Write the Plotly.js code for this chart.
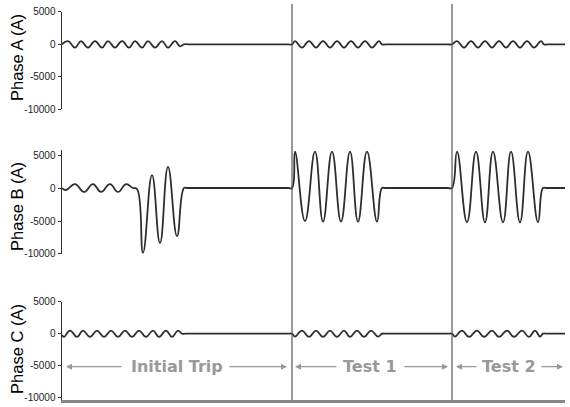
<!DOCTYPE html>
<html>
<head>
<meta charset="utf-8">
<script src="https://cdn.plot.ly/plotly-3.0.1.min.js"></script>
<style>html,body{margin:0;padding:0;background:#fff;}#chart{width:570px;height:407px;}</style>
</head>
<body>
<div id="chart"></div>
<script>
// time in ms, current in A
const phaseA_t = [0,6,13,19,26,33,40,46,53,60,67,73,80,86,93,100,106,113,118,122,126,226,
  230,233,240,247,254,261,268,275,282,289,296,303,310,317,320,324,386,
  390,395,402,409,416,423,430,437,444,451,458,465,472,479,482,486,503];
const phaseA_i = [0,500,-500,500,-500,500,-500,500,-500,500,-500,500,-500,500,-500,500,-500,500,-300,0,0,0,
  0,500,-500,500,-500,500,-500,500,-500,500,-500,500,-500,500,0,0,0,
  0,500,-500,500,-500,500,-500,500,-500,500,-500,500,-500,500,0,0,0];

const phaseB_t = [0,4,13,22,31,39,48,56,64,71,75,81,90,98,106,115,122,125,226,
  230,233,243,253,261,270,279,288,296,305,315,320,323,386,
  390,395,405,414,423,431,441,449,458,466,476,481,484,503];
const phaseB_i = [0,-300,600,-600,600,-600,600,-600,600,0,-150,-9800,1950,-8350,3200,-7300,0,0,0,
  0,5500,-5000,5500,-5100,5500,-5100,5500,-5100,5500,-5100,0,0,0,
  0,5500,-5200,5500,-5200,5500,-5200,5500,-5200,5500,-5200,0,0,0];

const phaseC_t = [0,2,8,15,21,28,35,42,49,56,63,70,77,84,91,97,104,110,116,120,124,226,
  230,233,240,247,254,261,268,275,282,288,295,302,309,316,320,324,386,
  390,393,400,407,415,422,430,437,445,452,460,467,473,478,481,485,503];
const phaseC_i = [-200,-500,500,-500,500,-500,500,-500,500,-500,500,-500,500,-500,500,-500,500,-500,500,0,0,0,
  0,-450,500,-500,500,-500,500,-500,500,-500,500,-500,500,-450,0,0,0,
  0,-450,500,-500,500,-500,500,-500,500,-500,500,-500,500,-450,0,0,0];

const phaseNames = ['Phase A (A)', 'Phase B (A)', 'Phase C (A)'];
const yTickVals = [5000, 0, -5000, -10000];
const yTickText = ['5000', '0', '-5000', '-10000'];
const segmentStarts = [230, 390];
const segmentLabels = ['Initial Trip', 'Test 1', 'Test 2'];
const segmentLabelX = [114.5, 308, 447];
// arrows: [head, tail]
const segmentArrows = [[4, 61], [225, 166], [233, 276], [386, 341], [394, 416], [501, 478]];
const labelLevel = -5200;

const lineStyle = {color: '#2e2e2e', width: 1.8, shape: 'spline', smoothing: 1.3};
const traces = [
  {x: phaseA_t, y: phaseA_i, xaxis: 'x', yaxis: 'y', mode: 'lines', line: lineStyle, name: 'Phase A'},
  {x: phaseB_t, y: phaseB_i, xaxis: 'x', yaxis: 'y2', mode: 'lines', line: lineStyle, name: 'Phase B'},
  {x: phaseC_t, y: phaseC_i, xaxis: 'x', yaxis: 'y3', mode: 'lines', line: lineStyle, name: 'Phase C'}
];

const titleFont = {family: 'Liberation Sans, Arial', size: 16.5, color: '#000'};
function yax(domain, range) {
  return {
    domain: domain, range: range, tickvals: yTickVals, ticktext: yTickText,
    ticks: 'outside', ticklen: 3, tickwidth: 1, tickcolor: '#333',
    tickfont: {family: 'Liberation Sans, Arial', size: 10, color: '#222'},
    showgrid: false, zeroline: false, showline: true, linecolor: '#333', linewidth: 1.5,
    fixedrange: true
  };
}

const shapes = segmentStarts.map(s => ({
  type: 'line', xref: 'x', yref: 'paper', x0: s, x1: s, y0: 0, y1: 1,
  line: {color: '#555', width: 1.2}
}));

// y-axis titles placed as rotated annotations next to each axis
const titleY = [0.866, 0.490, 0.129];
const titleAnns = phaseNames.map((t, k) => ({
  text: t, xref: 'paper', yref: 'paper', x: -0.0895, y: titleY[k], textangle: -90,
  showarrow: false, font: titleFont, xanchor: 'center', yanchor: 'middle'
}));

const annotations = titleAnns.concat(segmentLabels.map((t, k) => ({
  text: t, x: segmentLabelX[k], y: labelLevel, xref: 'x', yref: 'y3', showarrow: false,
  font: {family: 'DejaVu Sans', size: 16, color: '#999', weight: 'bold'}
}))).concat(segmentArrows.map(a => ({
  text: '', x: a[0], y: labelLevel, ax: a[1], ay: labelLevel, xref: 'x', yref: 'y3',
  axref: 'x', ayref: 'y3', showarrow: true, arrowhead: 2, arrowsize: 1, arrowwidth: 1.2,
  arrowcolor: '#999', standoff: 0, startstandoff: 0
})));

const layout = {
  width: 570, height: 407,
  margin: {l: 62, r: 5, t: 4, b: 7},
  paper_bgcolor: '#fff', plot_bgcolor: '#fff',
  showlegend: false,
  xaxis: {range: [0, 503], anchor: 'y3', showline: true, linecolor: '#888', linewidth: 2.5,
    showticklabels: false, ticks: '', showgrid: false, zeroline: false, fixedrange: true},
  yaxis: yax([0.7348, 0.9798], [-10000, 5000]),
  yaxis2: yax([0.3687, 0.6303], [-10000, 5700]),
  yaxis3: yax([0, 0.2475], [-10450, 5000]),
  shapes: shapes,
  annotations: annotations
};

Plotly.newPlot('chart', traces, layout, {displayModeBar: false, staticPlot: true});
</script>
</body>
</html>
